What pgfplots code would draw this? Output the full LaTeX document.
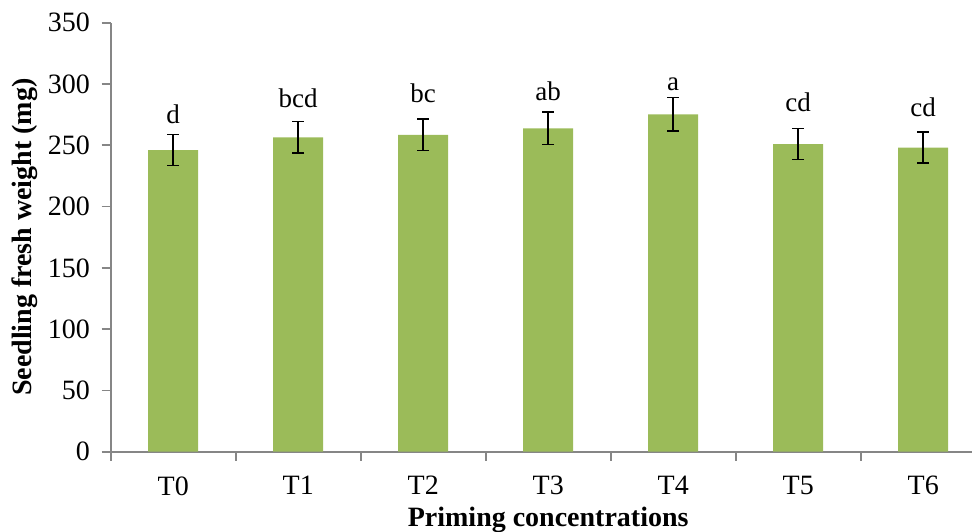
\documentclass[border=0pt]{standalone}
\usepackage{fontspec}
\setmainfont{Liberation Serif}
\usepackage{pgfplots}
\pgfplotsset{compat=1.18}
\definecolor{barg}{HTML}{9BBB59}
\definecolor{axg}{HTML}{868686}
\begin{document}
\fontsize{14}{16}\selectfont
\begin{tikzpicture}
\useasboundingbox (-55.35pt,-39.65pt) rectangle (430.65pt,225.85pt);
\begin{axis}[
    at={(0,0)}, anchor=south west,
    scale only axis,
    width=437.5pt, height=214.5pt,
    xmin=-0.5, xmax=6.5,
    ymin=0, ymax=350,
    ytick={0,50,...,350},
    xtick={0,...,6},
    xticklabels={T0,T1,T2,T3,T4,T5,T6},
    minor xtick={-0.5,0.5,...,6.5},
    major x tick style={draw=none},
    minor x tick style={axg, line width=0.8pt},
    y tick style={axg, line width=0.8pt},
    tick align=outside,
    major tick length=4.5pt,
    minor tick length=4.5pt,
    axis x line*=bottom,
    axis y line*=left,
    axis line style={axg, line width=1pt},
    tick label style={font=\fontsize{14}{16}\selectfont},
    xticklabel style={yshift=-3pt},
    yticklabel style={xshift=-1pt},
    /pgf/number format/assume math mode=true,
    xlabel={\textbf{Priming concentrations}},
    ylabel={\textbf{Seedling fresh weight (mg)}},
    label style={font=\fontsize{14}{16}\selectfont},
    xlabel style={yshift=3.5pt},
    ylabel style={at={(axis description cs:-0.0979,0.5)}, anchor=center},
    clip=false,
]
\addplot[ybar, bar width=0.4, fill=barg, draw=none,
    error bars/.cd, y dir=both, y explicit,
    error bar style={black, line width=0.8pt},
    error mark options={rotate=90, mark size=3pt, black, line width=0.8pt}]
    table[x=x, y=y, y error=e] {
x y e
0 246.1 12.6
1 256.5 12.9
2 258.4 12.8
3 263.8 13.2
4 275.3 13.7
5 251.0 12.6
6 248.0 12.6
};
\addplot[draw=none, mark=none, nodes near coords, point meta=explicit symbolic,
    nodes near coords align={anchor=base},
    every node near coord/.append style={inner sep=0pt, font=\fontsize{13.5}{15}\selectfont}]
    table[x=x, y=y, meta=lab] {
x y lab
0 267.4 d
1 281.0 bcd
2 285.1 bc
3 286.9 ab
4 294.5 a
5 277.4 cd
6 273.3 cd
};
\end{axis}
\end{tikzpicture}
\end{document}
